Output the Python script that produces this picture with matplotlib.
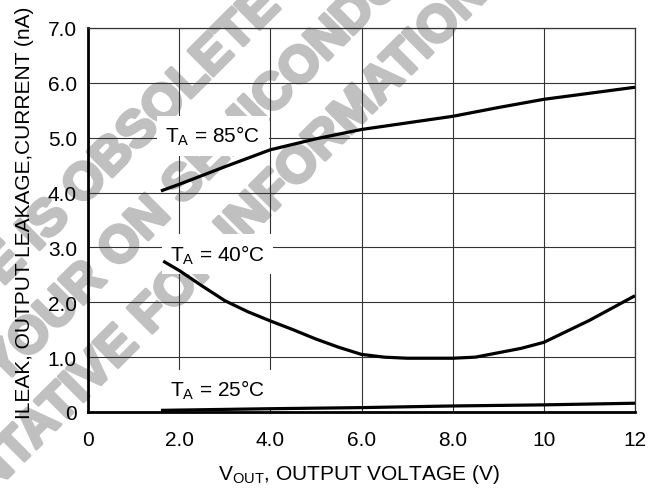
import numpy as np
import matplotlib.pyplot as plt
import matplotlib.patheffects as pe

plt.rcParams['font.family'] = ['Liberation Sans', 'DejaVu Sans']
plt.rcParams['mathtext.default'] = 'regular'

# curves (V, nA)
x_85 = [1.6, 2.0, 3.0, 4.0, 5.0, 6.0, 7.0, 8.0, 9.0, 10.0, 11.0, 12.0]
y_85 = [4.03, 4.15, 4.47, 4.78, 4.98, 5.15, 5.27, 5.39, 5.55, 5.70, 5.81, 5.92]

x_40 = [1.65, 2.0, 2.5, 3.0, 3.5, 4.0, 4.5, 5.0, 5.5, 6.0, 6.5, 7.0, 8.0, 8.5, 9.0, 9.5, 10.0, 11.0, 12.0]
y_40 = [2.75, 2.58, 2.30, 2.03, 1.83, 1.66, 1.50, 1.33, 1.18, 1.05, 1.00, 0.98, 0.98, 1.00, 1.08, 1.16, 1.27, 1.67, 2.12]

x_25 = [1.6, 4.0, 6.0, 8.0, 10.0, 12.0]
y_25 = [0.03, 0.06, 0.08, 0.11, 0.13, 0.16]

curve_labels = [r'T$_A$ = 85°C', r'T$_A$ = 40°C', r'T$_A$ = 25°C']

x_ticks = [0, 2, 4, 6, 8, 10, 12]
x_ticklabels = ['0', '2.0', '4.0', '6.0', '8.0', '10', '12']
y_ticks = [0, 1, 2, 3, 4, 5, 6, 7]
y_ticklabels = ['0', '1.0', '2.0', '3.0', '4.0', '5.0', '6.0', '7.0']

W, H = 655, 489
FS = 15
fig = plt.figure(figsize=(W / 100, H / 100), dpi=100)


def wm_pos(along, normal):
    # watermark anchor: distance along / across a 45 degree line, in pixels
    k = 0.7071
    px = (along + normal) * k
    py = (normal - along) * k
    return px / W, 1 - py / H


wm_style = dict(rotation=45, rotation_mode='anchor', va='baseline',
                fontsize=37, fontweight='bold', color='#c0c0c0', zorder=-5,
                path_effects=[pe.withStroke(linewidth=2.5, foreground='#c0c0c0')])
fig.text(*wm_pos(191.7, 205), 'THIS DEVICE IS OBSOLETE', ha='right', **wm_style)
fig.text(*wm_pos(221.3, 275), 'CONTACT YOUR ON SEMICON', ha='right', **wm_style)
fig.text(*wm_pos(221.3, 275), 'DUCTOR', ha='left', **wm_style)
fig.text(*wm_pos(-24.2, 343.8), 'REPRESENTATIVE FOR', ha='right', **wm_style)
fig.text(*wm_pos(-10, 343.8), 'INFORMATION', ha='left', **wm_style)

ax = fig.add_axes([88 / W, 1 - 413 / H, 547 / W, 384 / H])
ax.set_facecolor('none')

for xs, ys in [(x_85, y_85), (x_40, y_40), (x_25, y_25)]:
    ax.plot(xs, ys, color='black', lw=2.3, solid_capstyle='butt', zorder=4)

box = dict(boxstyle='square,pad=0.4', fc='white', ec='none')
ax.text(1.70, 4.92, curve_labels[0], fontsize=FS, ha='left', va='baseline', bbox=box, zorder=3)
ax.text(1.80, 2.76, curve_labels[1], fontsize=FS, ha='left', va='baseline', bbox=box, zorder=3)
ax.text(1.80, 0.29, curve_labels[2], fontsize=FS, ha='left', va='baseline', bbox=box, zorder=3)

ax.set_xlim(0, 12)
ax.set_ylim(0, 7)
ax.set_xticks(x_ticks)
ax.set_xticklabels(x_ticklabels)
ax.set_yticks(y_ticks)
ax.set_yticklabels(y_ticklabels)
ax.tick_params(length=0, labelsize=FS)
ax.tick_params(axis='x', pad=13)
ax.tick_params(axis='y', pad=8)
ax.set_axisbelow(True)
ax.grid(True, color='#333333', lw=0.8)

for side in ['left', 'bottom']:
    ax.spines[side].set_linewidth(2.0)
    ax.spines[side].set_color('black')
for side in ['top', 'right']:
    ax.spines[side].set_linewidth(0.9)
    ax.spines[side].set_color('#333333')

fig.text(24.5 / W, 1 - 213 / H, 'ILEAK, OUTPUT LEAKAGE,CURRENT (nA)',
         rotation=90, ha='center', va='center', fontsize=FS)
fig.text(358.5 / W, 1 - 480 / H, r'V$_{OUT}$, OUTPUT VOLTAGE (V)',
         ha='center', va='baseline', fontsize=FS)

fig.savefig('out.png', dpi=100)
